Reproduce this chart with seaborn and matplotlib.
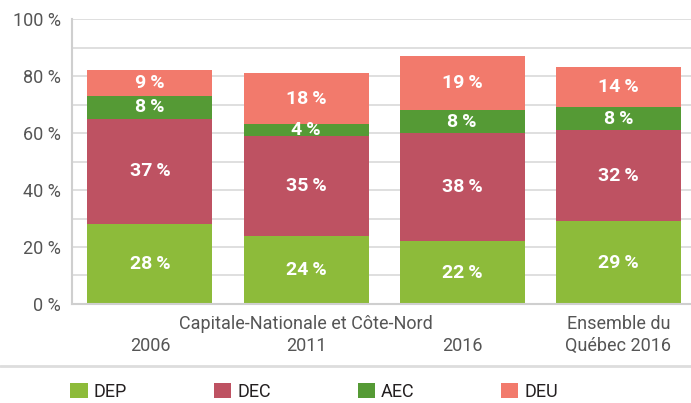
import numpy as np
import pandas as pd
import matplotlib
matplotlib.use('Agg')
import matplotlib.pyplot as plt
from matplotlib.patches import Patch
from matplotlib.lines import Line2D
import seaborn as sns

# data
categories = ['2006', 'Capitale-Nationale et Côte-Nord\n2011', '2016', 'Ensemble du\nQuébec 2016']
series = ['DEP', 'DEC', 'AEC', 'DEU']
dep = [28, 24, 22, 29]
dec = [37, 35, 38, 32]
aec = [8, 4, 8, 8]
deu = [9, 18, 19, 14]
colors = {'DEP': '#8DBB3A', 'DEC': '#BE5262', 'AEC': '#559A35', 'DEU': '#F27A6C'}

sns.set_theme(style='white')
plt.rcParams['font.family'] = ['Roboto', 'DejaVu Sans']

df = pd.DataFrame({'cat': categories, 'DEP': dep, 'DEC': dec, 'AEC': aec, 'DEU': deu})
cum = df[series].cumsum(axis=1)

fig = plt.figure(figsize=(6.91, 4.03), dpi=100)
ax = fig.add_axes([0.104, 0.2457, 0.897, 0.707])

# stacked bars: draw cumulative totals from the top layer down
for s in reversed(series):
    sns.barplot(x=df['cat'], y=cum[s], color=colors[s], width=0.8,
                saturation=1, linewidth=0, edgecolor='none', ax=ax, zorder=2)

# segment labels
for i in range(len(df)):
    base = 0
    for s in series:
        v = df.loc[i, s]
        ax.text(i, base + v / 2, f'{v}\u2009%', ha='center', va='center',
                color='white', fontsize=14, fontweight='bold', zorder=3)
        base += v

ax.set_ylim(0, 100)
ax.set_xlim(-0.5, 3.47)
ax.set_yticks(np.arange(0, 101, 20))
ax.set_yticks(np.arange(10, 100, 20), minor=True)
ax.set_yticklabels([f'{t} %' for t in range(0, 101, 20)])
ax.set_xticks([0.5, 1.5, 2.5], minor=True)
ax.grid(axis='y', which='both', color='#D9D9D9', lw=1.2, zorder=0)
ax.set_axisbelow(True)
ax.set_xlabel('')
ax.set_ylabel('')

for side in ['top', 'right']:
    ax.spines[side].set_visible(False)
for side in ['left', 'bottom']:
    ax.spines[side].set_color('#CFCFCF')
    ax.spines[side].set_linewidth(1.5)

ax.tick_params(axis='y', which='both', length=0, pad=8, labelsize=13, labelcolor='#555555')
ax.tick_params(axis='x', which='major', length=0, pad=8, labelsize=13, labelcolor='#555555')
ax.tick_params(axis='x', which='minor', direction='in', length=7, width=1, color='#CFCFCF')

# years under the group label should sit on the second line
ax.set_xticks(range(len(categories)))
ax.set_xticklabels(['\n' + c if '\n' not in c else c for c in categories],
                   multialignment='center', linespacing=1.25)

# separator line above legend
fig.add_artist(Line2D([0, 1], [0.092, 0.092], transform=fig.transFigure,
                      color='#DDDDDD', lw=2))

handles = [Patch(facecolor=colors[s], edgecolor='none', label=s) for s in series]
leg = fig.legend(handles=handles, loc='center', bbox_to_anchor=(0.455, 0.028), ncol=4,
                 frameon=False, fontsize=13, handlelength=0.95, handleheight=0.95,
                 handletextpad=0.35, columnspacing=4.8)
for t in leg.get_texts():
    t.set_color('#231F20')

fig.savefig('out.png', dpi=100)
